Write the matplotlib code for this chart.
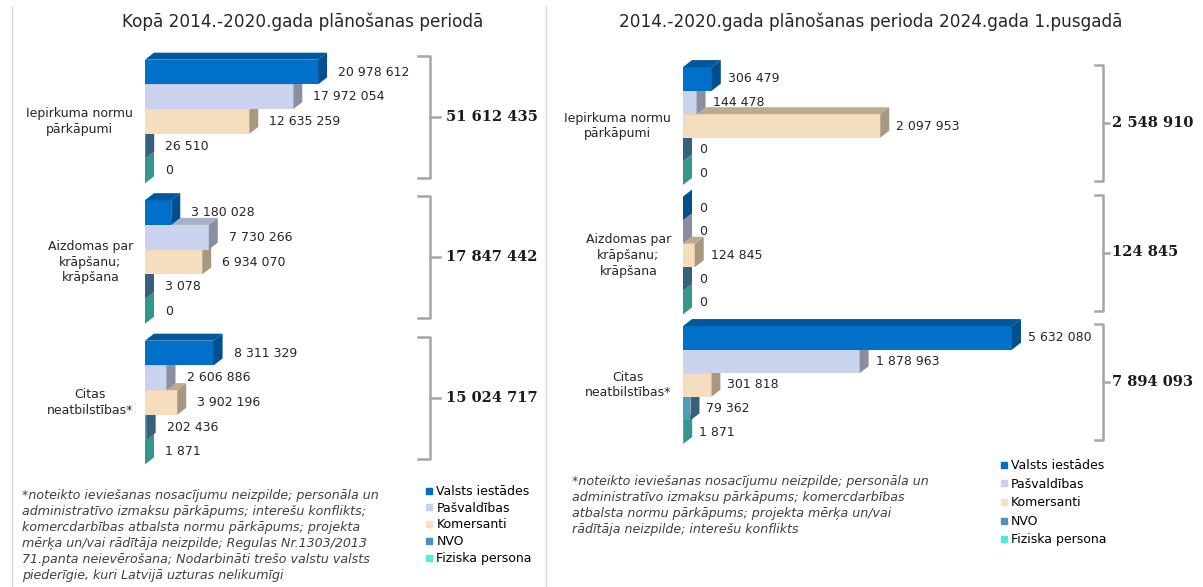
import numpy as np
import matplotlib
matplotlib.use("Agg")
import matplotlib.pyplot as plt
from matplotlib.patches import Polygon
from matplotlib.lines import Line2D

# Data
# ---------------------------------------
series = ["Valsts iestādes", "Pašvaldības", "Komersanti", "NVO", "Fiziska persona"]
categories = ["Iepirkuma normu\npārkāpumi", "Aizdomas par\nkrāpšanu;\nkrāpšana", "Citas\nneatbilstības*"]

# Kopā 2014.-2020.gada plānošanas periodā
total_valsts = [20978612, 3180028, 8311329]
total_pasv = [17972054, 7730266, 2606886]
total_kom = [12635259, 6934070, 3902196]
total_nvo = [26510, 3078, 202436]
total_fiz = [0, 0, 1871]
total_sums = [51612435, 17847442, 15024717]

# 2024.gada 1.pusgads
h1_valsts = [306479, 0, 5632080]
h1_pasv = [144478, 0, 1878963]
h1_kom = [2097953, 124845, 301818]
h1_nvo = [0, 0, 79362]
h1_fiz = [0, 0, 1871]
h1_sums = [2548910, 124845, 7894093]

note_left = ("*noteikto ieviešanas nosacījumu neizpilde; personāla un\n"
             "administratīvo izmaksu pārkāpums; interešu konflikts;\n"
             "komercdarbības atbalsta normu pārkāpums; projekta\n"
             "mērķa un/vai rādītāja neizpilde; Regulas Nr.1303/2013\n"
             "71.panta neievērošana; Nodarbināti trešo valstu valsts\n"
             "piederīgie, kuri Latvijā uzturas nelikumīgi")
note_right = ("*noteikto ieviešanas nosacījumu neizpilde; personāla un\n"
              "administratīvo izmaksu pārkāpums; komercdarbības\n"
              "atbalsta normu pārkāpums; projekta mērķa un/vai\n"
              "rādītāja neizpilde; interešu konflikts")

# Colours: front, side and top faces of the 3D bars
front_c = ["#0070C8", "#CBD3EE", "#F5DEBE", "#4A9CBA", "#3CC0B8"]
side_c = ["#004F8E", "#8A8FA0", "#A8987F", "#37607C", "#35968C"]
top_c = ["#00579C", "#A9AFC6", "#BCAB90", "#3D7590", "#38A89E"]
legend_c = ["#0070C0", "#C9D1EE", "#F6DFC3", "#4F90C0", "#55E8E0"]

W, H = 1203, 587
fig = plt.figure(figsize=(W / 100, H / 100), dpi=100)
fig.patch.set_facecolor("white")


def fmt(v):
    return f"{v:,}".replace(",", " ")


def add_ax(x0, x1, y0, y1):
    return fig.add_axes([x0 / W, 1 - y1 / H, (x1 - x0) / W, (y1 - y0) / H])


def draw_panel(ax, data, sums, xmax, px, bar_h, lab_dx, br):
    x0, x1, y0, y1 = px
    w_px, h_px = x1 - x0, y1 - y0
    ax.set_xlim(0, xmax)
    ax.set_ylim(2.5, -0.5)
    ax.axis("off")
    ddx = 9 * xmax / w_px
    ddy = 7 * 3.0 / h_px
    y = np.arange(len(categories))

    # draw from the lowest bar to the top one so the upper bars cover the 3D faces
    for i in range(len(series) - 1, -1, -1):
        vals = np.array(data[i])
        shown = np.minimum(vals, xmax)
        ypos = y + (i - 2) * bar_h
        z = 10 - i
        ax.barh(ypos, shown, height=bar_h, color=front_c[i], zorder=z, clip_on=False)
        for yc, v, raw in zip(ypos, shown, vals):
            yt, yb = yc - bar_h / 2, yc + bar_h / 2
            top = [(0, yt), (v, yt), (v + ddx, yt - ddy), (ddx, yt - ddy)]
            side = [(v, yt), (v, yb), (v + ddx, yb - ddy), (v + ddx, yt - ddy)]
            ax.add_patch(Polygon(top, closed=True, fc=top_c[i], ec="none", zorder=z, clip_on=False))
            ax.add_patch(Polygon(side, closed=True, fc=side_c[i], ec="none", zorder=z, clip_on=False))
            ax.annotate(fmt(raw), (v + ddx, yc), xytext=(lab_dx, 0), textcoords="offset pixels",
                        ha="left", va="center", fontsize=9, color="#262626", zorder=20,
                        annotation_clip=False)

    # category labels
    for yc, cat in zip(y, categories):
        ax.annotate(cat, (0, yc), xytext=(-12, 0), textcoords="offset pixels",
                    ha="right", va="center", multialignment="center",
                    fontsize=9, color="#262626", linespacing=1.25, annotation_clip=False)

    # brackets with group totals
    bx, hook, tick, tx, half, shift = br
    tr = ax.get_yaxis_transform()
    fx = lambda p: (p - x0) / w_px
    for yc, s in zip(y, sums):
        mid = yc - shift * 3.0 / h_px
        hh = half * 3.0 / h_px
        ax.plot([fx(bx - hook), fx(bx), fx(bx), fx(bx - hook)],
                [mid - hh, mid - hh, mid + hh, mid + hh],
                color="#A6A6A6", lw=1.8, transform=tr, clip_on=False, solid_joinstyle="round")
        ax.plot([fx(bx), fx(bx + tick)], [mid, mid], color="#A6A6A6", lw=1.8,
                transform=tr, clip_on=False)
        ax.text(fx(tx), mid, fmt(s), transform=tr, ha="left", va="center",
                fontsize=10.5, fontweight="bold", family="DejaVu Serif", color="#1A1A1A")


# Left panel
left_px = (145, 326.5, 51.25, 472.75)
ax1 = add_ax(*left_px)
draw_panel(ax1, [total_valsts, total_pasv, total_kom, total_nvo, total_fiz], total_sums,
           22e6, left_px, 0.176, 11, (430, 12, 10, 446, 61, 5))

# Right panel
right_px = (683, 1012, 61.25, 449.75)
ax2 = add_ax(*right_px)
draw_panel(ax2, [h1_valsts, h1_pasv, h1_kom, h1_nvo, h1_fiz], h1_sums,
           3.5e6, right_px, 0.182, 7, (1103, 8, 6, 1112, 58, 3))

# Titles
fig.text(303 / W, 1 - 22 / H, "Kopā 2014.-2020.gada plānošanas periodā",
         ha="center", va="center", fontsize=12.2, color="#262626")
fig.text(871 / W, 1 - 22 / H, "2014.-2020.gada plānošanas perioda 2024.gada 1.pusgadā",
         ha="center", va="center", fontsize=12.2, color="#262626")

# Footnotes
fig.text(22 / W, 1 - 489 / H, note_left, ha="left", va="top", fontsize=9.1,
         style="italic", color="#404040", linespacing=1.3)
fig.text(572 / W, 1 - 475 / H, note_right, ha="left", va="top", fontsize=9.1,
         style="italic", color="#404040", linespacing=1.3)

# Legends
handles = [Line2D([], [], marker="s", ls="", color=c, markersize=5) for c in legend_c]
fig.legend(handles, series, loc="upper left", bbox_to_anchor=(425 / W, 1 - 485 / H),
           frameon=False, fontsize=9, handlelength=0.6, handletextpad=0.3,
           labelspacing=0.3, borderaxespad=0, borderpad=0)
fig.legend(handles, series, loc="upper left", bbox_to_anchor=(1000 / W, 1 - 459 / H),
           frameon=False, fontsize=9, handlelength=0.6, handletextpad=0.3,
           labelspacing=0.45, borderaxespad=0, borderpad=0)

# Frame lines of the two chart areas
fig.add_artist(Line2D([12 / W, 12 / W], [0, 1 - 6 / H], color="#D9D9D9", lw=1))
fig.add_artist(Line2D([546 / W, 546 / W], [0, 1 - 6 / H], color="#D9D9D9", lw=1))

fig.savefig("out.png", dpi=100)
